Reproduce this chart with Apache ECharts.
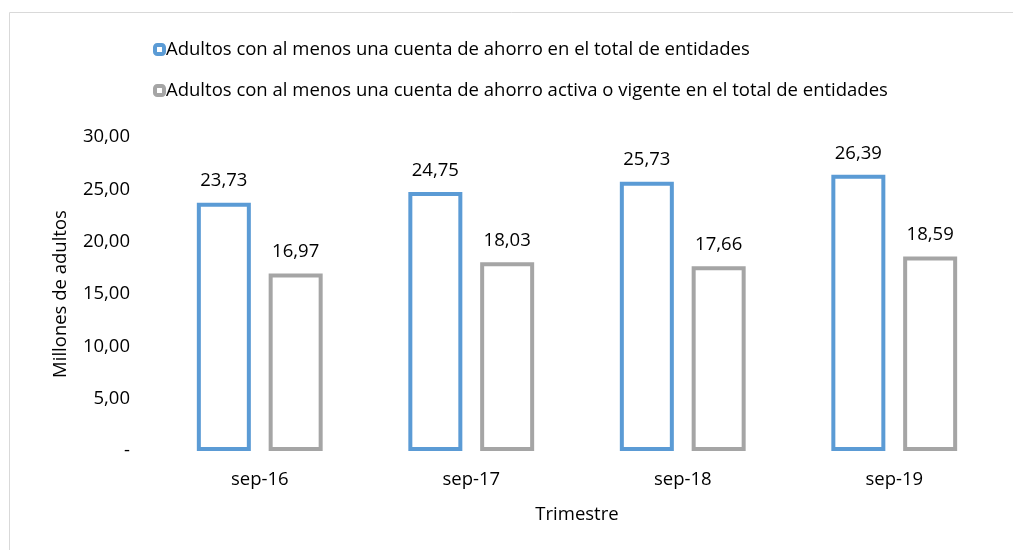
<!DOCTYPE html>
<html><head><meta charset="utf-8">
<script src="https://cdn.jsdelivr.net/npm/echarts@6/dist/echarts.min.js"></script>
<style>html,body{margin:0;padding:0;background:#fff}#c{width:1013px;height:550px}</style>
</head><body><div id="c"></div>
<script>
const categories = ['sep-16', 'sep-17', 'sep-18', 'sep-19'];
const seriesNames = ['Adultos con al menos una cuenta de ahorro en el total de entidades',
  'Adultos con al menos una cuenta de ahorro activa o vigente en el total de entidades'];
const totalAccounts = [23.73, 24.75, 25.73, 26.39];
const activeAccounts = [16.97, 18.03, 17.66, 18.59];
const yTicks = [0, 5, 10, 15, 20, 25, 30];

const fmt = v => v === 0 ? '-' : v.toFixed(2).replace('.', ',');
const FONT = 'Open Sans';
const FS = 18.5;
const chart = echarts.init(document.getElementById('c'));
const colors = ['#5b9bd5', '#a5a5a5'];
chart.setOption({
  animation: false,
  textStyle: {fontFamily: FONT},
  graphic: [{type: 'rect', shape: {x: 9.5, y: 12.5, width: 1010, height: 545},
    style: {fill: 'none', stroke: '#d9d9d9', lineWidth: 1}}],
  legend: {
    orient: 'vertical', left: 148, top: 35, itemGap: 22,
    itemWidth: 9, itemHeight: 9,
    textStyle: {fontFamily: FONT, fontSize: FS, color: '#000', padding: [0, 0, 0, -3]},
    data: seriesNames.map((n, i) => ({name: n, itemStyle: {color: '#fff', borderColor: colors[i], borderWidth: 4}}))
  },
  grid: {left: 154, right: 13, top: 137, bottom: 99, containLabel: false},
  xAxis: {
    type: 'category', data: categories,
    axisLine: {show: false}, axisTick: {show: false},
    axisLabel: {fontFamily: FONT, fontSize: FS, color: '#000', margin: 19},
    name: 'Trimestre', nameLocation: 'middle', nameGap: 54,
    nameTextStyle: {fontFamily: FONT, fontSize: FS, color: '#000'}
  },
  yAxis: {
    type: 'value', min: 0, max: 30, interval: 5,
    splitLine: {show: false}, axisLine: {show: false}, axisTick: {show: false},
    axisLabel: {fontFamily: FONT, fontSize: FS, color: '#000', margin: 24,
      formatter: v => yTicks.includes(v) ? fmt(v) : ''},
    name: 'Millones de adultos', nameLocation: 'middle', nameGap: 84,
    nameTextStyle: {fontFamily: FONT, fontSize: FS, color: '#000'}
  },
  series: [totalAccounts, activeAccounts].map((d, i) => ({
    type: 'bar', name: seriesNames[i], data: d,
    barWidth: 54, barGap: '33%',
    itemStyle: {color: '#fff', borderColor: colors[i], borderWidth: 4},
    label: {show: true, position: 'top', distance: 12, fontFamily: FONT, fontSize: FS, color: '#000',
      formatter: p => fmt(p.value)}
  }))
});
</script></body></html>
